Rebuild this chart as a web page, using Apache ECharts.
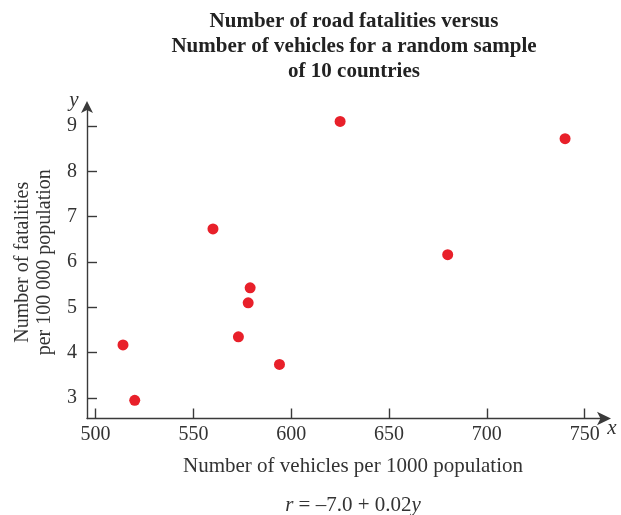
<!DOCTYPE html>
<html><head><meta charset="utf-8">
<script src="https://cdn.jsdelivr.net/npm/echarts@6/dist/echarts.min.js"></script>
<style>html,body{margin:0;padding:0;background:#fff}#c{width:621px;height:515px}</style>
</head><body><div id="c"></div>
<script>
const titleLines = ['Number of road fatalities versus', 'Number of vehicles for a random sample', 'of 10 countries'];
const xName = 'Number of vehicles per 1000 population';
const yNameLines = ['Number of fatalities', 'per 100 000 population'];
const formulaText = '{i|r} = \u20137.0 + 0.02{i|y}';
const xTicks = [500, 550, 600, 650, 700, 750];
const yTicks = [3, 4, 5, 6, 7, 8, 9];
const vehicles = [514, 520, 560, 573, 578, 579, 594, 625, 680, 740];
const fatalities = [4.17, 2.95, 6.73, 4.35, 5.10, 5.43, 3.74, 9.10, 6.16, 8.72];
const xRange = [495.6, 759.9];
const yRange = [2.548, 9.44];

const FONT = '"Liberation Serif", "Times New Roman", serif';
const AX = '#3a3a3a';
const chart = echarts.init(document.getElementById('c'), null, {renderer: 'canvas'});
const axisLineStyle = {color: AX, width: 1.4};

chart.setOption({
  animation: false,
  backgroundColor: '#fff',
  grid: {left: 87, right: 17, top: 106, bottom: 96.5, containLabel: false},
  xAxis: {
    type: 'value', min: xRange[0], max: xRange[1],
    splitLine: {show: false},
    axisLine: {show: true, onZero: false, lineStyle: axisLineStyle,
      symbol: ['none', 'arrow'], symbolSize: [10, 14], symbolOffset: [0, 7]},
    axisTick: {show: true, inside: true, length: 10, customValues: xTicks, lineStyle: axisLineStyle},
    axisLabel: {customValues: xTicks, fontFamily: FONT, fontSize: 20, color: '#333', margin: 6},
    name: xName, nameLocation: 'middle', nameGap: 37,
    nameTextStyle: {fontFamily: FONT, fontSize: 21, color: '#333', padding: [0, 0, 0, 15]}
  },
  yAxis: {
    type: 'value', min: yRange[0], max: yRange[1],
    splitLine: {show: false},
    axisLine: {show: true, onZero: false, lineStyle: axisLineStyle,
      symbol: ['none', 'arrow'], symbolSize: [9, 12], symbolOffset: [0, 5]},
    axisTick: {show: true, inside: true, length: 10, customValues: yTicks, lineStyle: axisLineStyle},
    axisLabel: {customValues: yTicks, fontFamily: FONT, fontSize: 20, color: '#333', margin: 10},
    name: yNameLines.join('\n'), nameLocation: 'middle', nameRotate: 90, nameGap: 30,
    nameTextStyle: {fontFamily: FONT, fontSize: 20, lineHeight: 22, color: '#333', align: 'center'}
  },
  series: [{
    type: 'scatter',
    data: vehicles.map((v, i) => [v, fatalities[i]]),
    symbol: 'circle', symbolSize: 11,
    itemStyle: {color: '#E8202A', opacity: 1}
  }],
  graphic: [
    {type: 'text', x: 354, y: 9, style: {
      text: titleLines.join('\n'), align: 'center', verticalAlign: 'top',
      font: 'bold 21px ' + FONT, lineHeight: 25, fill: '#222'}},
    {type: 'text', x: 353, y: 505, style: {
      text: formulaText, align: 'center', verticalAlign: 'middle',
      font: '21px ' + FONT, fill: '#333',
      rich: {i: {fontStyle: 'italic', fontFamily: FONT, fontSize: 21}}}},
    {type: 'text', x: 74, y: 100, style: {text: 'y', align: 'center', verticalAlign: 'middle',
      font: 'italic 21px ' + FONT, fill: '#333'}},
    {type: 'text', x: 612, y: 428, style: {text: 'x', align: 'center', verticalAlign: 'middle',
      font: 'italic 21px ' + FONT, fill: '#333'}}
  ]
});
</script></body></html>
